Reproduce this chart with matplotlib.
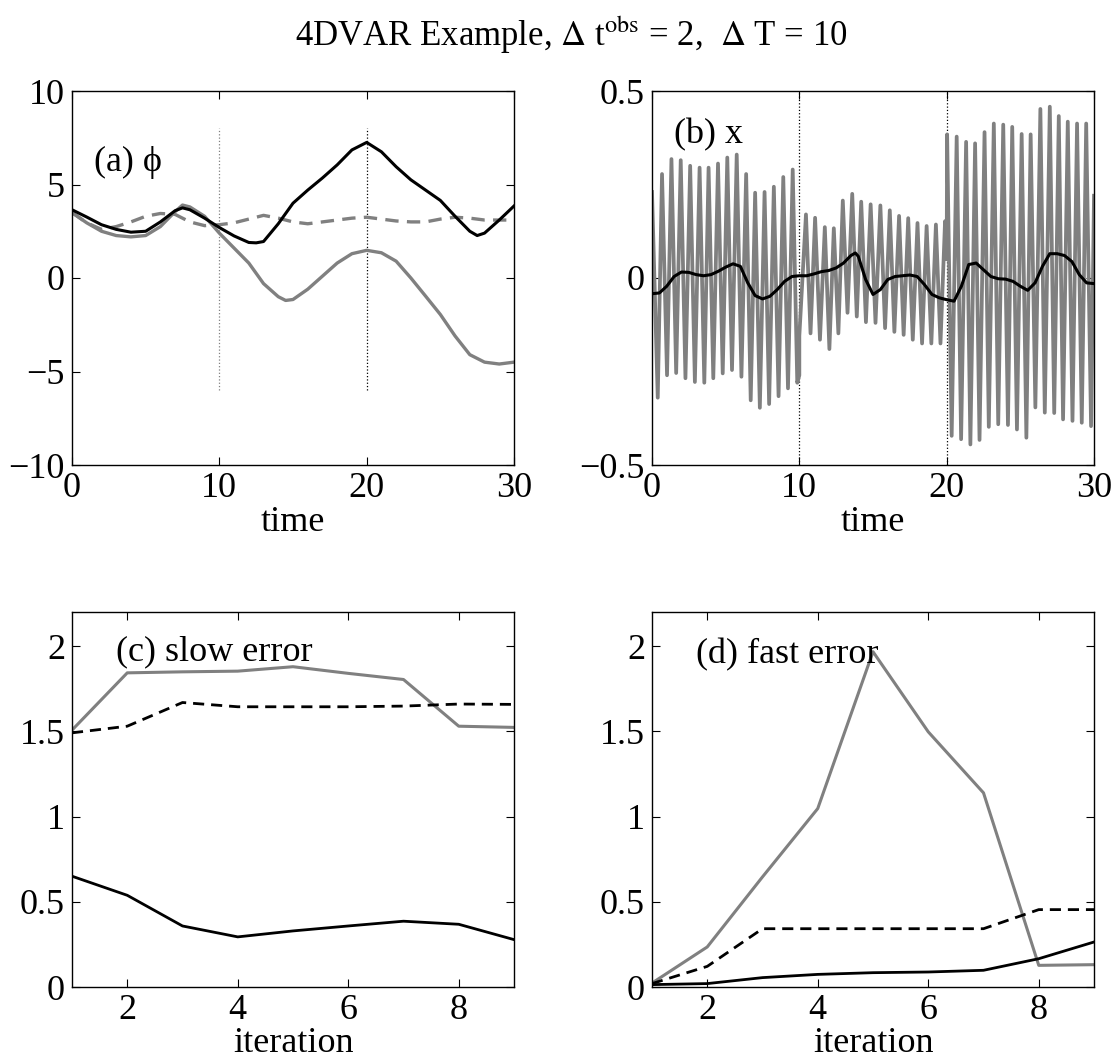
# 4DVAR example: slow/fast variables and error vs iteration
import numpy as np
import matplotlib
matplotlib.use('Agg')
import matplotlib.pyplot as plt
from matplotlib.ticker import FuncFormatter

plt.rcParams['font.family'] = ['Liberation Serif', 'DejaVu Serif']
plt.rcParams['mathtext.fontset'] = 'stix'

GRAY = '0.5'

# (a) slow variable phi
a_t_truth = [0, 1, 2, 3, 4, 5, 6, 7, 7.5, 8, 9, 10, 11, 12, 12.5, 13, 14, 15, 16, 17, 18,
             19, 20, 21, 22, 23, 24, 25, 26, 27, 27.5, 28, 29, 30]
a_truth = [3.65, 3.26, 2.85, 2.6, 2.45, 2.5, 3.0, 3.6, 3.75, 3.65, 3.2, 2.7, 2.25, 1.9, 1.88,
           1.95, 2.9, 4.0, 4.7, 5.35, 6.05, 6.85, 7.25, 6.75, 5.95, 5.25, 4.7, 4.15, 3.3, 2.5,
           2.27, 2.4, 3.1, 3.85]
a_t_gray = [0, 1, 2, 3, 4, 5, 6, 7, 7.5, 8, 9, 10, 11, 12, 13, 14, 14.5, 15, 16, 17, 18, 19,
            20, 21, 22, 23, 24, 25, 26, 27, 28, 29, 30]
a_gray = [3.5, 2.95, 2.5, 2.27, 2.2, 2.27, 2.75, 3.55, 3.9, 3.8, 3.3, 2.4, 1.6, 0.8, -0.3,
          -1.0, -1.2, -1.15, -0.6, 0.1, 0.8, 1.3, 1.48, 1.35, 0.9, 0.0, -0.97, -1.95, -3.1,
          -4.1, -4.5, -4.6, -4.5]
a_t_dash = list(range(31))
a_dash = [3.5, 2.95, 2.6, 2.75, 3.0, 3.3, 3.45, 3.4, 3.0, 2.8, 2.85, 2.95, 3.15, 3.35, 3.2,
          3.0, 2.9, 3.0, 3.1, 3.2, 3.25, 3.15, 3.05, 3.0, 3.0, 3.15, 3.25, 3.2, 3.1, 3.1, 3.1]

# (b) fast variable x: gray = extremes of the oscillation
b_t_fast = [0.0, 0.39, 0.68, 1.02, 1.32, 1.64, 1.95, 2.27, 2.59, 2.91, 3.23, 3.55, 3.84, 4.16,
            4.48, 4.8, 5.11, 5.43, 5.75, 6.07, 6.39, 6.7, 7.0, 7.32, 7.64, 7.95, 8.27, 8.59,
            8.91, 9.23, 9.55, 9.86, 10.0,
            10.0, 10.45, 10.76, 11.07, 11.4, 11.73, 12.04, 12.34, 12.65, 12.95, 13.27, 13.59,
            13.9, 14.2, 14.52, 14.84, 15.17, 15.5, 15.82, 16.14, 16.45, 16.77, 17.08, 17.39,
            17.7, 18.02, 18.33, 18.64, 18.96, 19.27, 19.58, 19.89, 20.0,
            20.03, 20.34, 20.68, 20.98, 21.32, 21.61, 21.93, 22.23, 22.57, 22.86, 23.2, 23.5,
            23.84, 24.16, 24.45, 24.77, 25.09, 25.41, 25.7, 26.02, 26.36, 26.66, 27.0, 27.3,
            27.61, 27.9, 28.22, 28.54, 28.85, 29.17, 29.47, 29.8, 30.0]
b_fast = [0.23, -0.32, 0.278, -0.26, 0.318, -0.254, 0.315, -0.268, 0.30, -0.278, 0.295, -0.28,
          0.295, -0.268, 0.306, -0.255, 0.322, -0.246, 0.33, -0.264, 0.278, -0.327, 0.228,
          -0.347, 0.23, -0.337, 0.244, -0.316, 0.27, -0.295, 0.29, -0.28, -0.26,
          -0.155, 0.17, -0.148, 0.161, -0.165, 0.136, -0.19, 0.133, -0.148, 0.207, -0.093,
          0.225, -0.103, 0.204, -0.118, 0.197, -0.12, 0.194, -0.134, 0.181, -0.144, 0.166,
          -0.152, 0.16, -0.165, 0.147, -0.175, 0.139, -0.175, 0.143, -0.175, 0.152, 0.05,
          0.384, -0.422, 0.378, -0.431, 0.364, -0.445, 0.36, -0.433, 0.39, -0.398, 0.413,
          -0.391, 0.41, -0.393, 0.404, -0.405, 0.385, -0.427, 0.384, -0.346, 0.452, -0.36,
          0.458, -0.361, 0.433, -0.378, 0.418, -0.382, 0.413, -0.387, 0.413, -0.396, 0.22]
b_t_slow = [0, 0.5, 1, 1.5, 2, 2.5, 3, 3.5, 4, 4.5, 5, 5.5, 6, 6.5, 7, 7.5, 8, 8.5, 9, 9.5,
            10, 10.5, 11, 11.5, 12, 12.5, 13, 13.5, 13.8, 14, 14.5, 15, 15.5, 16, 16.5, 17,
            17.5, 18, 18.5, 19, 19.5, 20, 20.5, 21, 21.5, 22, 22.5, 23, 23.5, 24, 24.5, 25,
            25.5, 26, 26.5, 27, 27.5, 28, 28.5, 29, 29.5, 30]
b_slow = [-0.042, -0.04, -0.022, 0.004, 0.016, 0.015, 0.009, 0.006, 0.009, 0.018, 0.029,
          0.038, 0.031, -0.013, -0.047, -0.056, -0.049, -0.031, -0.009, 0.004, 0.006, 0.006,
          0.011, 0.017, 0.02, 0.027, 0.04, 0.06, 0.067, 0.058, -0.004, -0.044, -0.031,
          -0.004, 0.004, 0.006, 0.008, 0.004, -0.018, -0.044, -0.053, -0.058, -0.062, -0.022,
          0.036, 0.04, 0.022, 0.004, -0.002, -0.003, -0.009, -0.022, -0.033, -0.013, 0.031,
          0.065, 0.065, 0.06, 0.044, 0.009, -0.013, -0.015]

# (c), (d) errors vs iteration
iters = [1, 2, 3, 4, 5, 6, 7, 8, 9]
slow_gray = [1.507, 1.843, 1.849, 1.853, 1.879, 1.84, 1.804, 1.53, 1.523]
slow_dash = [1.491, 1.53, 1.669, 1.644, 1.644, 1.644, 1.648, 1.66, 1.658]
slow_black = [0.65, 0.538, 0.358, 0.294, 0.329, 0.358, 0.386, 0.368, 0.278]
fast_gray = [0.023, 0.235, 0.646, 1.047, 1.967, 1.497, 1.139, 0.127, 0.131]
fast_dash = [0.02, 0.121, 0.342, 0.342, 0.342, 0.342, 0.342, 0.454, 0.454]
fast_black = [0.014, 0.02, 0.055, 0.074, 0.084, 0.088, 0.098, 0.166, 0.264]

W, H = 1120, 1063
fig = plt.figure(figsize=(W / 100, H / 100), dpi=100)

def box(l, t, r, b):
    return [l / W, (H - b) / H, (r - l) / W, (b - t) / H]

ax_a = fig.add_axes(box(72, 91, 514, 465))
ax_b = fig.add_axes(box(652, 91, 1094, 465))
ax_c = fig.add_axes(box(72, 612, 514, 987))
ax_d = fig.add_axes(box(652, 612, 1094, 987))

fmt = FuncFormatter(lambda v, p: ('%g' % v).replace('-', '\u2212'))
for ax in (ax_a, ax_b, ax_c, ax_d):
    ax.tick_params(direction='in', top=True, right=True, length=6, width=0.8,
                   labelsize=26, pad=5)
    for s in ax.spines.values():
        s.set_linewidth(1.0)
    ax.yaxis.set_major_formatter(fmt)
    ax.xaxis.set_major_formatter(fmt)

# (a)
ax_a.plot([10, 10], [-6, 8], ':', color=GRAY, lw=0.9)
ax_a.plot([20, 20], [-6, 8], ':', color='k', lw=0.9)
ax_a.plot(a_t_dash, a_dash, '--', color=GRAY, lw=2.4, dashes=(4, 2.5))
ax_a.plot(a_t_gray, a_gray, '-', color=GRAY, lw=2.4)
ax_a.plot(a_t_truth, a_truth, '-', color='k', lw=2.2)
ax_a.set_xlim(0, 30)
ax_a.set_ylim(-10, 10)
ax_a.set_xticks([0, 10, 20, 30])
ax_a.set_yticks([-10, -5, 0, 5, 10])
ax_a.set_xlabel('time', fontsize=26, labelpad=1)
ax_a.text(1.5, 6.2, '(a) \u03d5', fontsize=26, va='center')

# (b)
ax_b.plot([10, 10], [-0.5, 0.5], ':', color='k', lw=0.9)
ax_b.plot([20, 20], [-0.5, 0.5], ':', color='k', lw=0.9)
ax_b.plot(b_t_fast, b_fast, '-', color=GRAY, lw=2.7, solid_joinstyle='round')
ax_b.plot(b_t_slow, b_slow, '-', color='k', lw=2.2)
ax_b.set_xlim(0, 30)
ax_b.set_ylim(-0.5, 0.5)
ax_b.set_xticks([0, 10, 20, 30])
ax_b.set_yticks([-0.5, 0, 0.5])
ax_b.set_xlabel('time', fontsize=26, labelpad=1)
ax_b.text(1.5, 0.382, '(b) x', fontsize=26, va='center')

# (c)
ax_c.plot(iters, slow_gray, '-', color=GRAY, lw=2.2)
ax_c.plot(iters, slow_dash, '--', color='k', lw=2.0, dashes=(4, 2.5))
ax_c.plot(iters, slow_black, '-', color='k', lw=2.0)
ax_c.set_xlim(1, 9)
ax_c.set_ylim(0, 2.2)
ax_c.set_xticks([2, 4, 6, 8])
ax_c.set_yticks([0, 0.5, 1, 1.5, 2])
ax_c.set_xlabel('iteration', fontsize=26, labelpad=0)
ax_c.text(1.8, 1.965, '(c) slow error', fontsize=26, va='center')

# (d)
ax_d.plot(iters, fast_gray, '-', color=GRAY, lw=2.2)
ax_d.plot(iters, fast_dash, '--', color='k', lw=2.0, dashes=(4, 2.5))
ax_d.plot(iters, fast_black, '-', color='k', lw=2.0)
ax_d.set_xlim(1, 9)
ax_d.set_ylim(0, 2.2)
ax_d.set_xticks([2, 4, 6, 8])
ax_d.set_yticks([0, 0.5, 1, 1.5, 2])
ax_d.set_xlabel('iteration', fontsize=26, labelpad=0)
ax_d.text(1.8, 1.95, '(d) fast error', fontsize=26, va='center')

fig.text(0.51, 1 - 35 / H,
         r'4DVAR Example, $\Delta$ t$^{\mathrm{obs}}$ = 2,  $\Delta$ T = 10',
         ha='center', va='center', fontsize=25)

fig.savefig('out.png', dpi=100)
